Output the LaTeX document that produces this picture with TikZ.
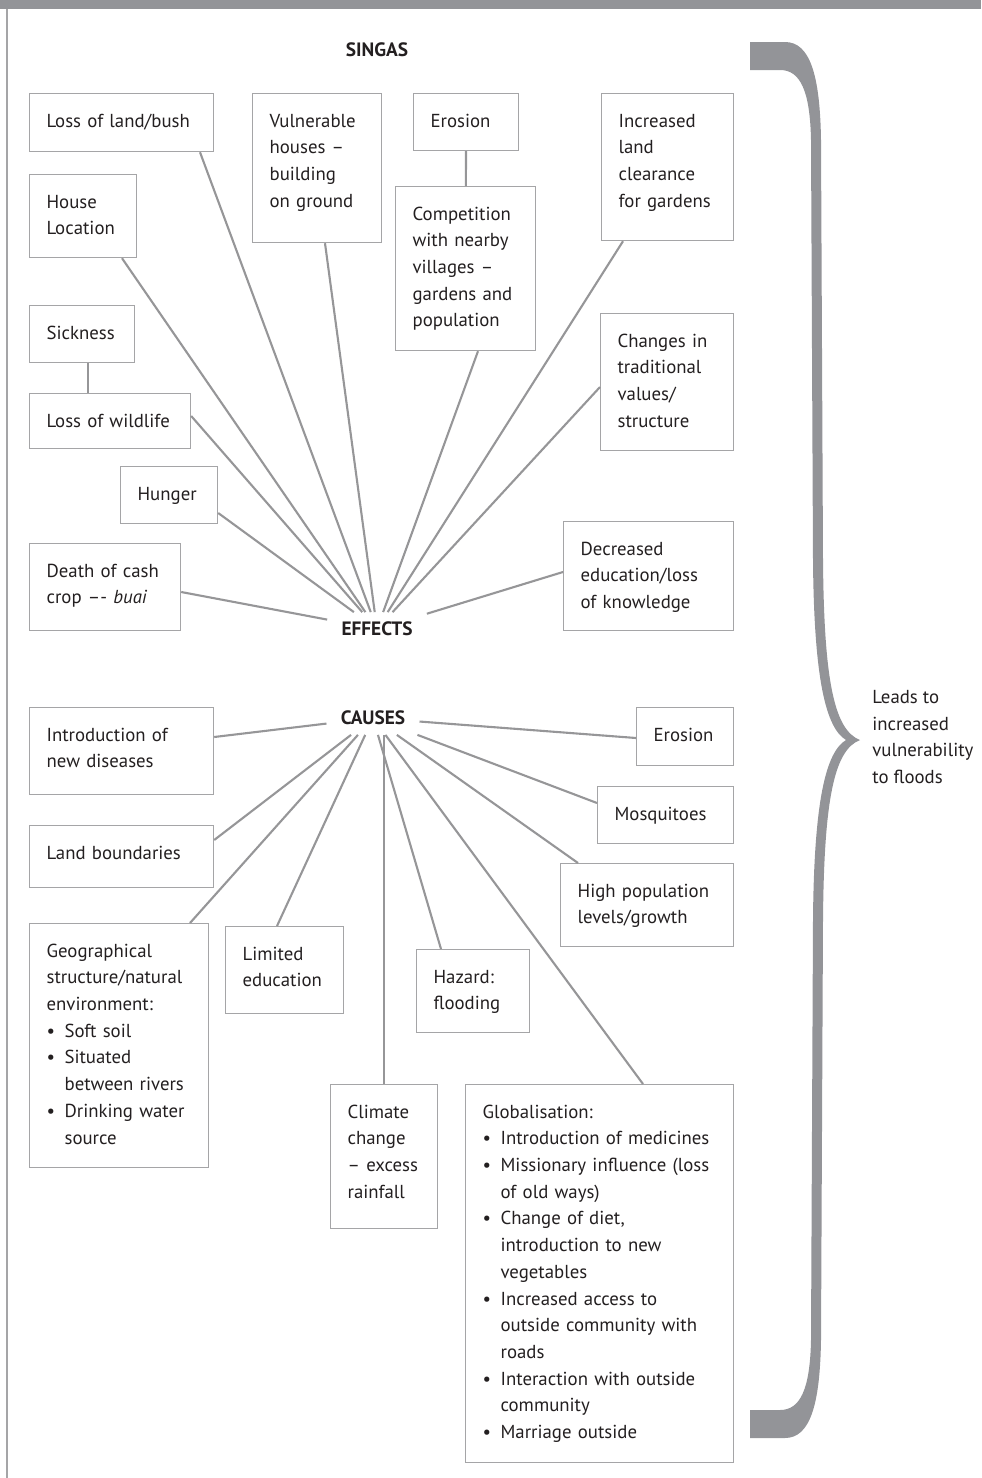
\documentclass[tikz,border=0pt]{standalone}
\usepackage{fontspec}
\setmainfont{PT Sans}
\hyphenpenalty=10000
\exhyphenpenalty=10000
\definecolor{linegrey}{RGB}{150,150,152}
\definecolor{boxgrey}{RGB}{165,165,167}
\definecolor{bargrey}{RGB}{147,148,152}
\definecolor{inkblack}{RGB}{35,31,32}
\newcommand{\bl}{\makebox[0.36cm][l]{\textbullet}}
\newcommand{\ct}{\hspace*{0.36cm}}
\begin{document}
    \begin{tikzpicture}[x = 0.02cm, y = -0.02cm, text = inkblack,
            font = \fontsize{10.7}{15.2}\selectfont,
            box/.style = {draw = boxgrey, line width = 0.7pt, anchor = north west, align = left, inner xsep = 0.34cm, inner ysep = 0.37cm, text height = 0.3cm},
            hub/.style = {font = \fontsize{11}{15.2}\selectfont\bfseries, inner xsep = 0.28cm, inner ysep = 0.19cm},
            link/.style = {draw = linegrey, line width = 1.2pt}]
        \useasboundingbox (0, 0) rectangle (981, 1478);
        \fill[bargrey] (0, 0) rectangle (981, 9);
        \draw[boxgrey, line width = 0.8pt] (7, 9) -- (7, 1478);

        \node[hub](singas) at (377, 50){SINGAS};
        \node[hub](effects) at (377, 629){EFFECTS};
        \node[hub](causes) at (373, 718){CAUSES};

        \node[box, text width = 3cm, text depth = 0.12cm](lossland) at (29, 93){Loss of land/bush};
        \node[box, text width = 1.9cm, text depth = 1.94cm](vulner) at (252, 93){Vulnerable\\houses --\\building\\on ground};
        \node[box, text width = 1.42cm, text depth = 0.1cm](erosiona) at (413, 93){Erosion};
        \node[box, text width = 2.12cm, text depth = 2.24cm](compet) at (395, 186){Competition\\with nearby\\villages --\\gardens and\\population};
        \node[box, text width = 1.96cm, text depth = 1.9cm](landclear) at (601, 93){Increased\\land\\clearance\\for gardens};
        \node[box, text width = 1.46cm, text depth = 0.62cm](house) at (29, 174){House\\Location};
        \node[box, text width = 1.42cm, text depth = 0.1cm](sick) at (29, 305){Sickness};
        \node[box, text width = 2.54cm, text depth = 0.06cm](wildlife) at (29, 393){Loss of wildlife};
        \node[box, text width = 1.26cm, text depth = 0.1cm](hunger) at (120, 466){Hunger};
        \node[box, text width = 2.34cm, text depth = 0.7cm](death) at (29, 543){Death of cash\\crop –- \textit{buai}};
        \node[box, text width = 1.98cm, text depth = 1.7cm](changes) at (600, 313){Changes in\\traditional\\values/\\structure};
        \node[box, text width = 2.72cm, text depth = 1.14cm](decreased) at (563, 521){Decreased\\education/loss\\of knowledge};

        \node[box, text width = 3cm, text depth = 0.7cm](newdis) at (29, 707){Introduction of\\new diseases};
        \node[box, text width = 1.26cm, text depth = 0.12cm](erosionb) at (636, 707){Erosion};
        \node[box, text width = 3cm, text depth = 0.2cm](boundaries) at (29, 825){Land boundaries};
        \node[box, text width = 2.04cm, text depth = 0.1cm](mosq) at (597, 786){Mosquitoes};
        \node[box, text width = 2.78cm, text depth = 0.62cm](highpop) at (560, 863){High population\\levels/growth};
        \node[box, text width = 2.9cm, text depth = 3.84cm](geo) at (29, 923){Geographical\\structure/natural\\environment:\\\bl Soft soil\\\bl Situated\\\ct between rivers\\\bl Drinking water\\\ct source};
        \node[box, text width = 1.68cm, text depth = 0.7cm](limited) at (225, 926){Limited\\education};
        \node[box, text width = 1.58cm, text depth = 0.62cm](hazard) at (416, 949){Hazard:\\flooding};
        \node[box, text width = 1.46cm, text depth = 1.84cm](climate) at (330, 1084){Climate\\change\\-- excess\\rainfall};
        \node[box, text width = 4.68cm, text depth = 6.52cm](global) at (465, 1084){Globalisation:\\\bl Introduction of medicines\\\bl Missionary influence (loss\\\ct of old ways)\\\bl Change of diet,\\\ct introduction to new\\\ct vegetables\\\bl Increased access to\\\ct outside community with\\\ct roads\\\bl Interaction with outside\\\ct community\\\bl Marriage outside};

        \draw[link] (erosiona) -- (compet);
        \draw[link] (sick.south -| 88, 0) -- (wildlife.north -| 88, 0);
        \draw[link] (lossland.south -| 200, 0) -- (effects);
        \draw[link] (house.south -| 122, 0) -- (effects);
        \draw[link] (vulner.south -| 325, 0) -- (effects);
        \draw[link] (compet.south -| 478, 0) -- (effects);
        \draw[link] (landclear.south -| 623, 0) -- (effects);
        \draw[link] (changes.west |- 0, 387) -- (effects);
        \draw[link] (wildlife.east |- 0, 416) -- (effects);
        \draw[link] (hunger.east |- 0, 513) -- (effects);
        \draw[link] (death.east |- 0, 592) -- (effects);
        \draw[link] (decreased.west |- 0, 572) -- (effects);

        \draw[link] (newdis.east |- 0, 737) -- (causes);
        \draw[link] (erosionb.west |- 0, 738) -- (causes);
        \draw[link] (boundaries.east |- 0, 840) -- (causes);
        \draw[link] (mosq.west |- 0, 803) -- (causes);
        \draw[link] (highpop.north -| 578, 0) -- (causes);
        \draw[link] (geo.north -| 190, 0) -- (causes);
        \draw[link] (limited.north -| 277, 0) -- (causes);
        \draw[link] (hazard.north -| 441, 0) -- (causes);
        \draw[link] (climate.north) -- (climate.north |- causes.south);
        \draw[link] (global.north -| 643, 0) -- (causes);

        \fill[bargrey] (750, 42) -- (785, 42) .. controls (810, 42) and (820, 75) .. (821, 140) -- (823, 560) .. controls (824, 680) and (834, 730) .. (860, 740) .. controls (834, 750) and (824, 800) .. (823, 920) -- (821, 1340) .. controls (820, 1405) and (810, 1438) .. (785, 1438) -- (750, 1438) -- (750, 1410) -- (780, 1410) .. controls (800, 1410) and (810, 1390) .. (811, 1340) -- (813, 920) .. controls (814, 800) and (826, 752) .. (846, 740) .. controls (826, 728) and (814, 680) .. (813, 560) -- (811, 140) .. controls (810, 90) and (800, 70) .. (780, 70) -- (750, 70) -- cycle;
        \node[anchor = west, align = left, inner sep = 0pt](leads) at (872, 737){Leads to\\increased\\vulnerability\\to floods};
    \end{tikzpicture}
\end{document}
